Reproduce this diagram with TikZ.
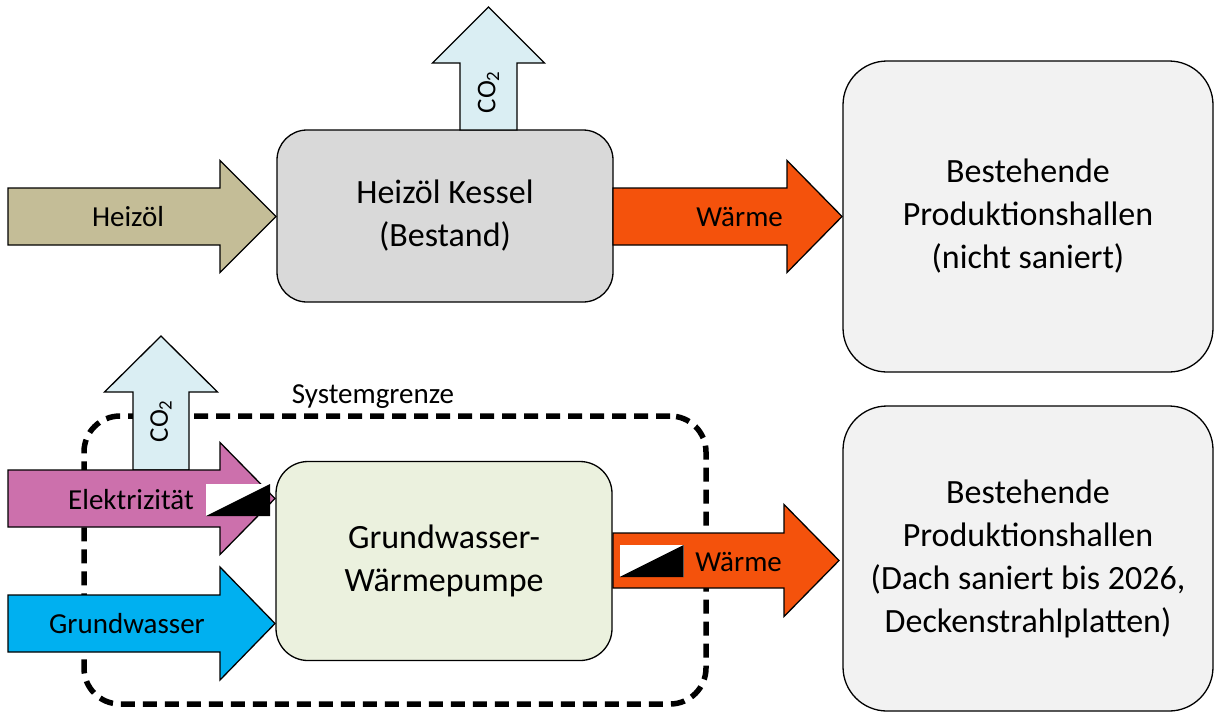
\documentclass[tikz,border=0pt]{standalone}
\usepackage{fontspec}
\setmainfont{Carlito}
\definecolor{oil}{HTML}{C4BD97}
\definecolor{boiler}{HTML}{D9D9D9}
\definecolor{hall}{HTML}{F2F2F2}
\definecolor{heat}{HTML}{F4520C}
\definecolor{cotwo}{HTML}{DAEEF3}
\definecolor{power}{HTML}{CC70AC}
\definecolor{water}{HTML}{00B0F0}
\definecolor{pump}{HTML}{EBF1DE}
% horizontal block arrow: {x start}{x head base}{x tip}{y centre}{shaft half}{head half}{fill}
\newcommand\harrowblock[7]{%
  \draw[arrowline, fill=#7] (#1,#4-#5) -- (#2,#4-#5) -- (#2,#4-#6) -- (#3,#4)
    -- (#2,#4+#6) -- (#2,#4+#5) -- (#1,#4+#5) -- cycle;}
% vertical block arrow: {x centre}{y bottom}{y head base}{y tip}{shaft half}{head half}
\newcommand\varrowblock[6]{%
  \draw[arrowline, fill=cotwo] (#1-#5,#2) -- (#1-#5,#3) -- (#1-#6,#3) -- (#1,#4)
    -- (#1+#6,#3) -- (#1+#5,#3) -- (#1+#5,#2) -- cycle;}
\begin{document}
\begin{tikzpicture}[x=1pt,y=-1pt,
  arrowline/.style={draw=black, line width=1.3pt, line join=miter},
  box/.style={draw=black, line width=1.3pt, align=center, inner sep=0pt,
    font=\fontsize{34}{43}\selectfont},
  label/.style={inner sep=0pt, font=\fontsize{29}{34}\selectfont},
  gastext/.style={inner sep=0pt, rotate=90, font=\fontsize{27}{30}\selectfont},
  sysline/.style={draw=black, line width=5.5pt, dash pattern=on 14pt off 8pt,
    rounded corners=36pt},
  halficon/.pic={
    \fill[white] (-32,-16) rectangle (32,16);
    \fill[black] (-32,16) -- (32,16) -- (32,-16) -- cycle;}
]
\useasboundingbox (0,0) rectangle (1214,713);

% system boundary of the heat pump
\node[sysline, minimum width=622pt, minimum height=288pt] (sys) at (395,560) {};
\node[label] (systxt) at (373,397) {Systemgrenze};

% --- upper chain: oil boiler ---
\node[box, fill=boiler, rounded corners=30pt, minimum width=336pt,
  minimum height=172pt] (kessel) at (445,216) {Heizöl Kessel\\(Bestand)};
\node[box, fill=hall, rounded corners=44pt, minimum width=370pt,
  minimum height=311pt] (hall1) at (1028,216.5)
  {Bestehende\\Produktionshallen\\(nicht saniert)};

\harrowblock{8}{220}{276}{216.5}{28.5}{56}{oil}
\node[label] (oiltxt) at (128,216.5) {Heizöl};
\harrowblock{613}{787}{842}{216.5}{28.5}{56}{heat}
\node[label, anchor=east] (heat1txt) at (783,217) {Wärme};
\varrowblock{488.5}{130}{63}{7}{28.5}{56}
\node[gastext] (co2a) at (488.5,92) {CO\textsubscript{2}};

% --- lower chain: groundwater heat pump ---
\node[box, fill=pump, rounded corners=32pt, minimum width=336pt,
  minimum height=199pt] (wp) at (444,561) {Grundwasser-\\Wärmepumpe};
\node[box, fill=hall, rounded corners=44pt, minimum width=370pt,
  minimum height=305pt] (hall2) at (1028,558.5)
  {Bestehende\\Produktionshallen\\(Dach saniert bis 2026,\\Deckenstrahlplatten)};

\varrowblock{161}{470}{392}{336}{28}{56.5}
\node[gastext] (co2b) at (161,421) {CO\textsubscript{2}};
\harrowblock{8}{220}{275}{498.5}{28.5}{56}{power}
\node[label, anchor=east] (eltxt) at (194,500) {Elektrizität};
\pic (elicon) at (238,500) {halficon};
\harrowblock{8}{220}{275}{623.5}{28.5}{56.5}{water}
\node[label] (gwtxt) at (127,624) {Grundwasser};
\harrowblock{613}{784}{839}{560.5}{27.5}{56}{heat}
\pic (heaticon) at (651.5,561) {halficon};
\node[label, anchor=east] (heat2txt) at (782,562) {Wärme};
\end{tikzpicture}
\end{document}
